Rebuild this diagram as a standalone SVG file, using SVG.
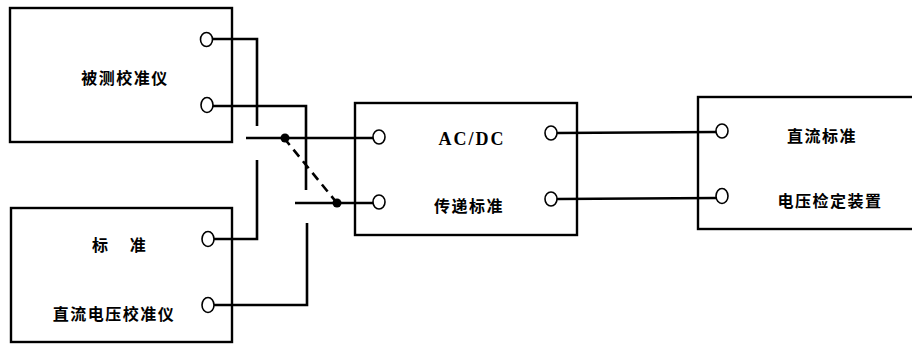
<svg xmlns="http://www.w3.org/2000/svg" width="912" height="344" viewBox="0 0 912 344">
<style>
.box{fill:none;stroke:#000;stroke-width:2.4}
.term{fill:#fff;stroke:#000;stroke-width:1.6}
.w{fill:none;stroke:#000;stroke-width:2.6}
.dash{fill:none;stroke:#000;stroke-width:2.6;stroke-dasharray:9 6}
.dot{fill:#000}
.t{font-family:"Noto Sans CJK SC","Noto Sans",sans-serif;font-weight:bold;font-size:16px;letter-spacing:1.5px;fill:#000;dominant-baseline:central}
.s{font-family:"Liberation Serif",serif;font-weight:bold;font-size:18px;letter-spacing:2px;fill:#000;dominant-baseline:central}
</style>
<rect width="912" height="344" fill="#fff"/>
<g id="meter-under-test">
<rect class="box" x="10" y="8" width="222" height="134"/>
<text class="t" x="125" y="77" text-anchor="middle">被测校准仪</text>
<ellipse class="term" cx="206.5" cy="39.5" rx="6" ry="7"/>
<ellipse class="term" cx="207" cy="105" rx="6" ry="7.5"/>
</g>
<g id="dc-voltage-standard">
<rect class="box" x="11" y="208" width="221" height="134"/>
<text class="t" x="92" y="244" word-spacing="15px">标 准</text>
<text class="t" x="114" y="313" text-anchor="middle">直流电压校准仪</text>
<ellipse class="term" cx="208" cy="239" rx="6" ry="7.5"/>
<ellipse class="term" cx="208" cy="305" rx="6" ry="7.5"/>
</g>
<g id="acdc-transfer">
<rect class="box" x="355" y="103" width="222" height="132"/>
<text class="s" x="472" y="139" text-anchor="middle">AC/DC</text>
<text class="t" x="469" y="205" text-anchor="middle">传递标准</text>
<ellipse class="term" cx="379" cy="137" rx="6" ry="7"/>
<ellipse class="term" cx="379" cy="202" rx="6" ry="7"/>
<ellipse class="term" cx="551" cy="133" rx="6" ry="7"/>
<ellipse class="term" cx="551" cy="199" rx="6" ry="7"/>
</g>
<g id="dc-calibrator">
<rect class="box" x="698" y="97" width="230" height="132"/>
<text class="t" x="822" y="135" text-anchor="middle">直流标准</text>
<text class="t" x="830" y="200" text-anchor="middle">电压检定装置</text>
<ellipse class="term" cx="722" cy="131" rx="6" ry="7"/>
<ellipse class="term" cx="722" cy="196" rx="6" ry="7.5"/>
</g>
<g id="connectors">
<polyline class="w" points="212.5,39 257,39 257,126"/>
<polyline class="w" points="213,106 306,106 306,190"/>
<polyline class="w" points="214,239 257,239 257,160"/>
<polyline class="w" points="214,305 307,305 307,223"/>
<line class="w" x1="246" y1="138" x2="373" y2="138"/>
<line class="w" x1="295" y1="203" x2="373" y2="203"/>
<line class="dash" x1="284" y1="138" x2="337" y2="203"/>
<circle class="dot" cx="285" cy="138" r="4.5"/>
<circle class="dot" cx="337" cy="203" r="4.5"/>
<line class="w" x1="557" y1="133" x2="716" y2="132"/>
<line class="w" x1="557" y1="199" x2="716" y2="198"/>
</g>
</svg>
